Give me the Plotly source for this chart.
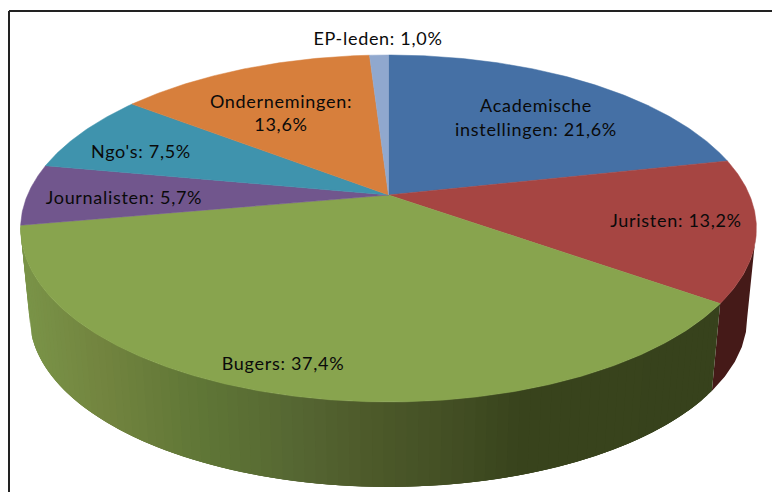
import numpy as np
import plotly.graph_objects as go

# ---- data ----
categories = ["Academische instellingen", "Juristen", "Bugers", "Journalisten",
              "Ngo's", "Ondernemingen", "EP-leden"]
values = [21.6, 13.2, 37.4, 5.7, 7.5, 13.6, 1.0]
slice_colors = ["#4570A5", "#A64542", "#88A44E", "#71568D", "#3F93AD", "#D77F3C", "#90A8CE"]
label_texts = ["Academische<br>instellingen: 21,6%", "Juristen: 13,2%", "Bugers: 37,4%",
               "Journalisten: 5,7%", "Ngo's: 7,5%", "Ondernemingen:<br>13,6%", "EP-leden: 1,0%"]
label_x = [536, 676, 283, 124, 141, 281, 378]
label_y = [119.5, 222, 365, 199, 153, 115, 40]

# ---- projection of the tilted pie: a unit circle seen in perspective ----
CX, CY, B, C, D = 388.5, 195.0, -129.4, 0.193, 361.0
SHRINK, VY = 0.975, 3800.0


def rim(theta_deg):
    th = np.radians(theta_deg)
    u, v = np.sin(th), np.cos(th)
    w = 1 + C * v
    return CX + D * u / w, (CY + B * v) / w


def lower(theta_deg):
    x, y = rim(theta_deg)
    return CX + (x - CX) * SHRINK, VY + (y - VY) * SHRINK


def lerp_color(x, stops):
    xs = [s[0] for s in stops]
    chans = [np.interp(x, xs, [int(s[1][i:i + 2], 16) for s in stops]) for i in (1, 3, 5)]
    return "#%02X%02X%02X" % tuple(int(round(c)) for c in chans)


GREEN_WALL = [(20, "#7A9448"), (100, "#72843F"), (200, "#5F7636"), (300, "#556632"),
              (367, "#4D5A2A"), (450, "#434F24"), (520, "#38431C"), (772, "#37421C")]
RED_WALL = [(0, "#451A18"), (772, "#451A18")]

fig = go.Figure()
bounds = np.concatenate([[0], np.cumsum(values)]) * 3.6


def add_wall(t0, t1, stops, n):
    # painted from the far end of the arc, each strip reaching under the next one,
    # so that no anti-aliased seam shows between neighbouring strips
    edges = np.linspace(t0, t1, n + 1)
    for a, b in zip(edges[:-1], edges[1:]):
        ts = np.linspace(a, min(t1, b + 2 * (b - a)), 6)
        xt, yt = rim(ts)
        xb, yb = lower(ts)
        xm = float((rim(a)[0] + rim(b)[0]) / 2)
        col = lerp_color(xm, stops)
        fig.add_trace(go.Scatter(
            x=np.concatenate([xt, xb[::-1]]), y=np.concatenate([yt, yb[::-1]]),
            mode="lines", fill="toself", fillcolor=col,
            line=dict(color=col, width=0), hoverinfo="skip", showlegend=False))


# visible side wall: red from the silhouette to the red/green border, then the green slice
add_wall(101.0, bounds[2], RED_WALL, 1)
add_wall(bounds[2], bounds[3], GREEN_WALL, 90)

# top faces
for i, name in enumerate(categories):
    ts = np.linspace(bounds[i], bounds[i + 1], max(6, int(values[i] * 8)))
    xs, ys = rim(ts)
    fig.add_trace(go.Scatter(
        x=np.concatenate([[CX], xs, [CX]]), y=np.concatenate([[CY], ys, [CY]]),
        mode="lines", fill="toself", fillcolor=slice_colors[i],
        line=dict(color=slice_colors[i], width=0.5), name=name,
        hoverinfo="name", showlegend=False))

fig.add_trace(go.Scatter(
    x=label_x, y=label_y, mode="text", text=label_texts, textposition="middle center",
    textfont=dict(family="Lato, Carlito, sans-serif", size=18, color="#0A0A0A"),
    hoverinfo="skip", showlegend=False))

# chart frame (only left and top are inside the crop)
fig.add_shape(type="line", x0=9, x1=9, y0=11, y1=492, line=dict(color="#222222", width=2))
fig.add_shape(type="line", x0=9, x1=772, y0=11, y1=11, line=dict(color="#222222", width=2))

fig.update_xaxes(range=[0, 772], visible=False, fixedrange=True)
fig.update_yaxes(range=[492, 0], visible=False, fixedrange=True)
fig.update_layout(width=772, height=492, margin=dict(l=0, r=0, t=0, b=0),
                  paper_bgcolor="white", plot_bgcolor="white", showlegend=False)
fig.write_html("out.html", config={"displayModeBar": False},
               post_script="document.body.style.margin='0';document.body.style.overflow='hidden';"
                           "document.querySelectorAll('.textpoint text').forEach("
                           "function(t){t.style.letterSpacing='0.7px';});")
